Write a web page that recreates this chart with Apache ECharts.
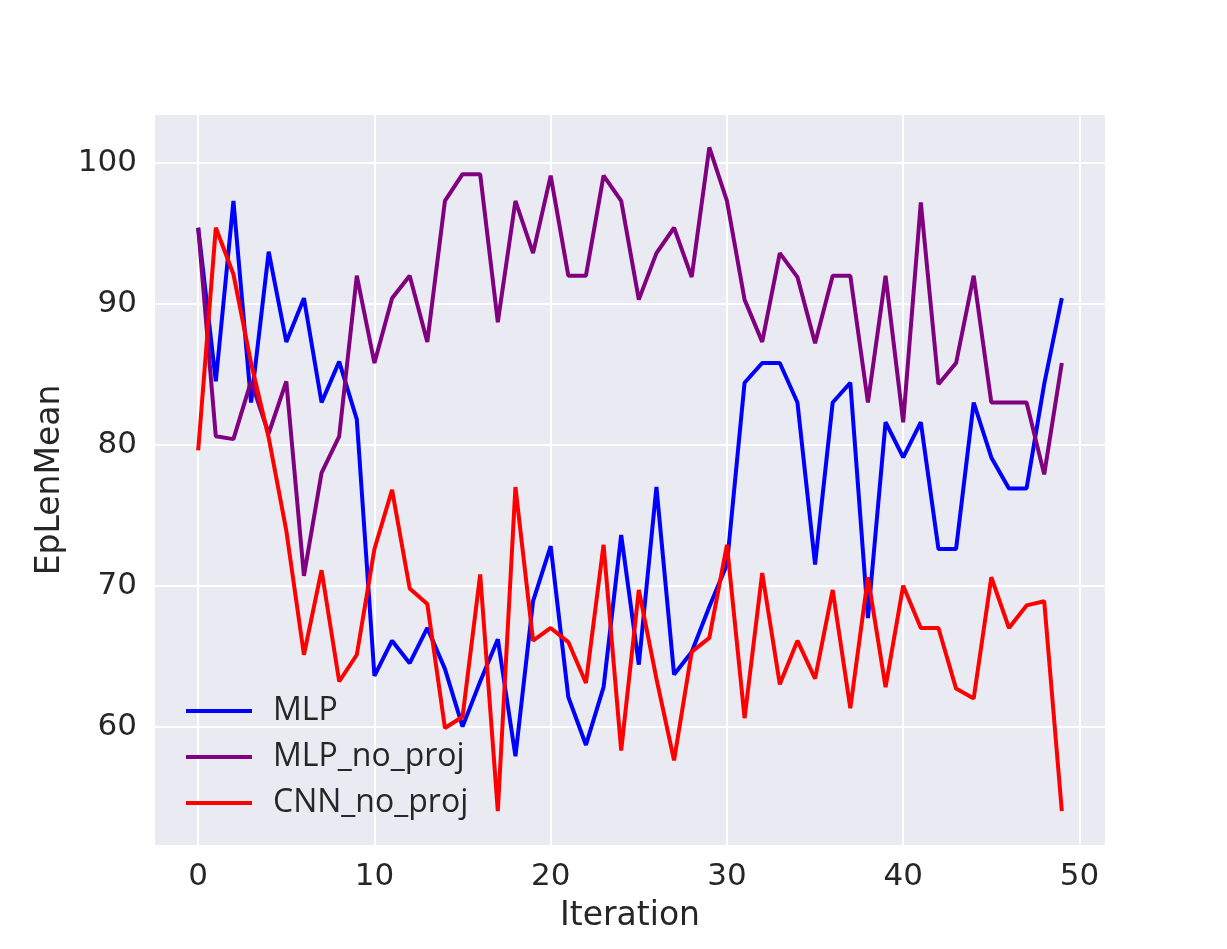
<!DOCTYPE html>
<html>
<head>
<meta charset="utf-8">
<script src="https://cdn.jsdelivr.net/npm/echarts@6/dist/echarts.min.js"></script>
<style>
  html, body { margin: 0; padding: 0; background: #ffffff; }
  #chart-container { width: 1227px; height: 949px; }
</style>
</head>
<body>
<div id="chart-container"></div>
<script>
var iterations = [
  0, 1, 2, 3, 4, 5, 6, 7, 8, 9,
  10, 11, 12, 13, 14, 15, 16, 17, 18, 19,
  20, 21, 22, 23, 24, 25, 26, 27, 28, 29,
  30, 31, 32, 33, 34, 35, 36, 37, 38, 39,
  40, 41, 42, 43, 44, 45, 46, 47, 48, 49
];

var mlp = [
  95.4, 84.5, 97.3, 83.0, 93.7, 87.3, 90.4, 83.0, 85.9, 81.8,
  63.6, 66.1, 64.5, 67.0, 64.1, 60.0, 63.2, 66.2, 57.9, 68.9,
  72.8, 62.1, 58.7, 62.8, 73.6, 64.4, 77.0, 63.7, 65.3, 68.5,
  71.5, 84.4, 85.8, 85.8, 83.0, 71.5, 83.0, 84.4, 67.7, 81.6,
  79.1, 81.6, 72.6, 72.6, 83.0, 79.1, 76.9, 76.9, 84.3, 90.4
];

var mlpNoProj = [
  95.4, 80.6, 80.4, 84.5, 80.8, 84.5, 70.7, 78.0, 80.6, 92.0,
  85.8, 90.4, 92.0, 87.3, 97.3, 99.2, 99.2, 88.7, 97.3, 93.6,
  99.1, 92.0, 92.0, 99.1, 97.3, 90.3, 93.6, 95.4, 91.9, 101.1,
  97.3, 90.3, 87.3, 93.6, 91.9, 87.2, 92.0, 92.0, 83.0, 92.0,
  81.6, 97.2, 84.3, 85.8, 92.0, 83.0, 83.0, 83.0, 77.9, 85.8
];

var cnnNoProj = [
  79.6, 95.4, 92.1, 85.8, 80.5, 73.9, 65.1, 71.1, 63.2, 65.1,
  72.6, 76.8, 69.8, 68.7, 59.9, 60.7, 70.8, 54.0, 77.0, 66.1,
  67.0, 66.0, 63.1, 72.9, 58.3, 69.7, 63.4, 57.6, 65.3, 66.3,
  72.9, 60.6, 70.9, 63.0, 66.1, 63.4, 69.7, 61.3, 70.6, 62.8,
  70.0, 67.0, 67.0, 62.7, 62.0, 70.6, 67.0, 68.6, 68.9, 54.0
];

var xTicks = [0, 10, 20, 30, 40, 50];
var yTicks = [60, 70, 80, 90, 100];

function pairs(values) {
  return iterations.map(function (it, i) { return [it, values[i]]; });
}

var dom = document.getElementById("chart-container");
var myChart = echarts.init(dom, null, { renderer: "canvas" });

var axisFont = "DejaVu Sans";
var textColor = "#262626";

function lineSeries(name, color, values) {
  return {
    name: name,
    type: "line",
    data: pairs(values),
    showSymbol: false,
    symbol: "none",
    lineStyle: { color: color, width: 4 },
    itemStyle: { color: color },
    animation: false
  };
}

var option = {
  backgroundColor: "#ffffff",
  animation: false,
  grid: {
    left: 155,
    right: 122,
    top: 115,
    bottom: 104,
    show: true,
    backgroundColor: "#eaeaf2",
    borderWidth: 0
  },
  legend: {
    orient: "vertical",
    left: 181,
    top: 690,
    itemWidth: 66,
    itemHeight: 4,
    itemGap: 14,
    icon: "rect",
    data: ["MLP", "MLP_no_proj", "CNN_no_proj"],
    textStyle: {
      fontFamily: "Open Sans",
      fontSize: 32,
      color: textColor,
      lineHeight: 32,
      padding: [0, 0, 0, 16]
    }
  },
  xAxis: {
    type: "value",
    min: -2.45,
    max: 51.45,
    name: "Iteration",
    nameLocation: "middle",
    nameGap: 55,
    nameTextStyle: { fontFamily: axisFont, fontSize: 33, color: textColor },
    axisLine: { show: false },
    axisTick: { show: false, customValues: xTicks },
    axisLabel: {
      customValues: xTicks,
      fontFamily: axisFont,
      fontSize: 31,
      color: textColor,
      margin: 16
    },
    splitLine: { show: true, lineStyle: { color: "#ffffff", width: 2 } }
  },
  yAxis: {
    type: "value",
    min: 51.6,
    max: 103.4,
    name: "EpLenMean",
    nameLocation: "middle",
    nameGap: 80,
    nameRotate: 90,
    nameTextStyle: { fontFamily: axisFont, fontSize: 33, color: textColor },
    axisLine: { show: false },
    axisTick: { show: false, customValues: yTicks },
    axisLabel: {
      customValues: yTicks,
      fontFamily: axisFont,
      fontSize: 31,
      color: textColor,
      margin: 18
    },
    splitLine: { show: true, lineStyle: { color: "#ffffff", width: 2 } }
  },
  series: [
    lineSeries("MLP", "#0000ff", mlp),
    lineSeries("MLP_no_proj", "#800080", mlpNoProj),
    lineSeries("CNN_no_proj", "#ff0000", cnnNoProj)
  ]
};

if (option && typeof option === "object") {
  myChart.setOption(option);
}

window.addEventListener("resize", myChart.resize);
</script>
</body>
</html>
